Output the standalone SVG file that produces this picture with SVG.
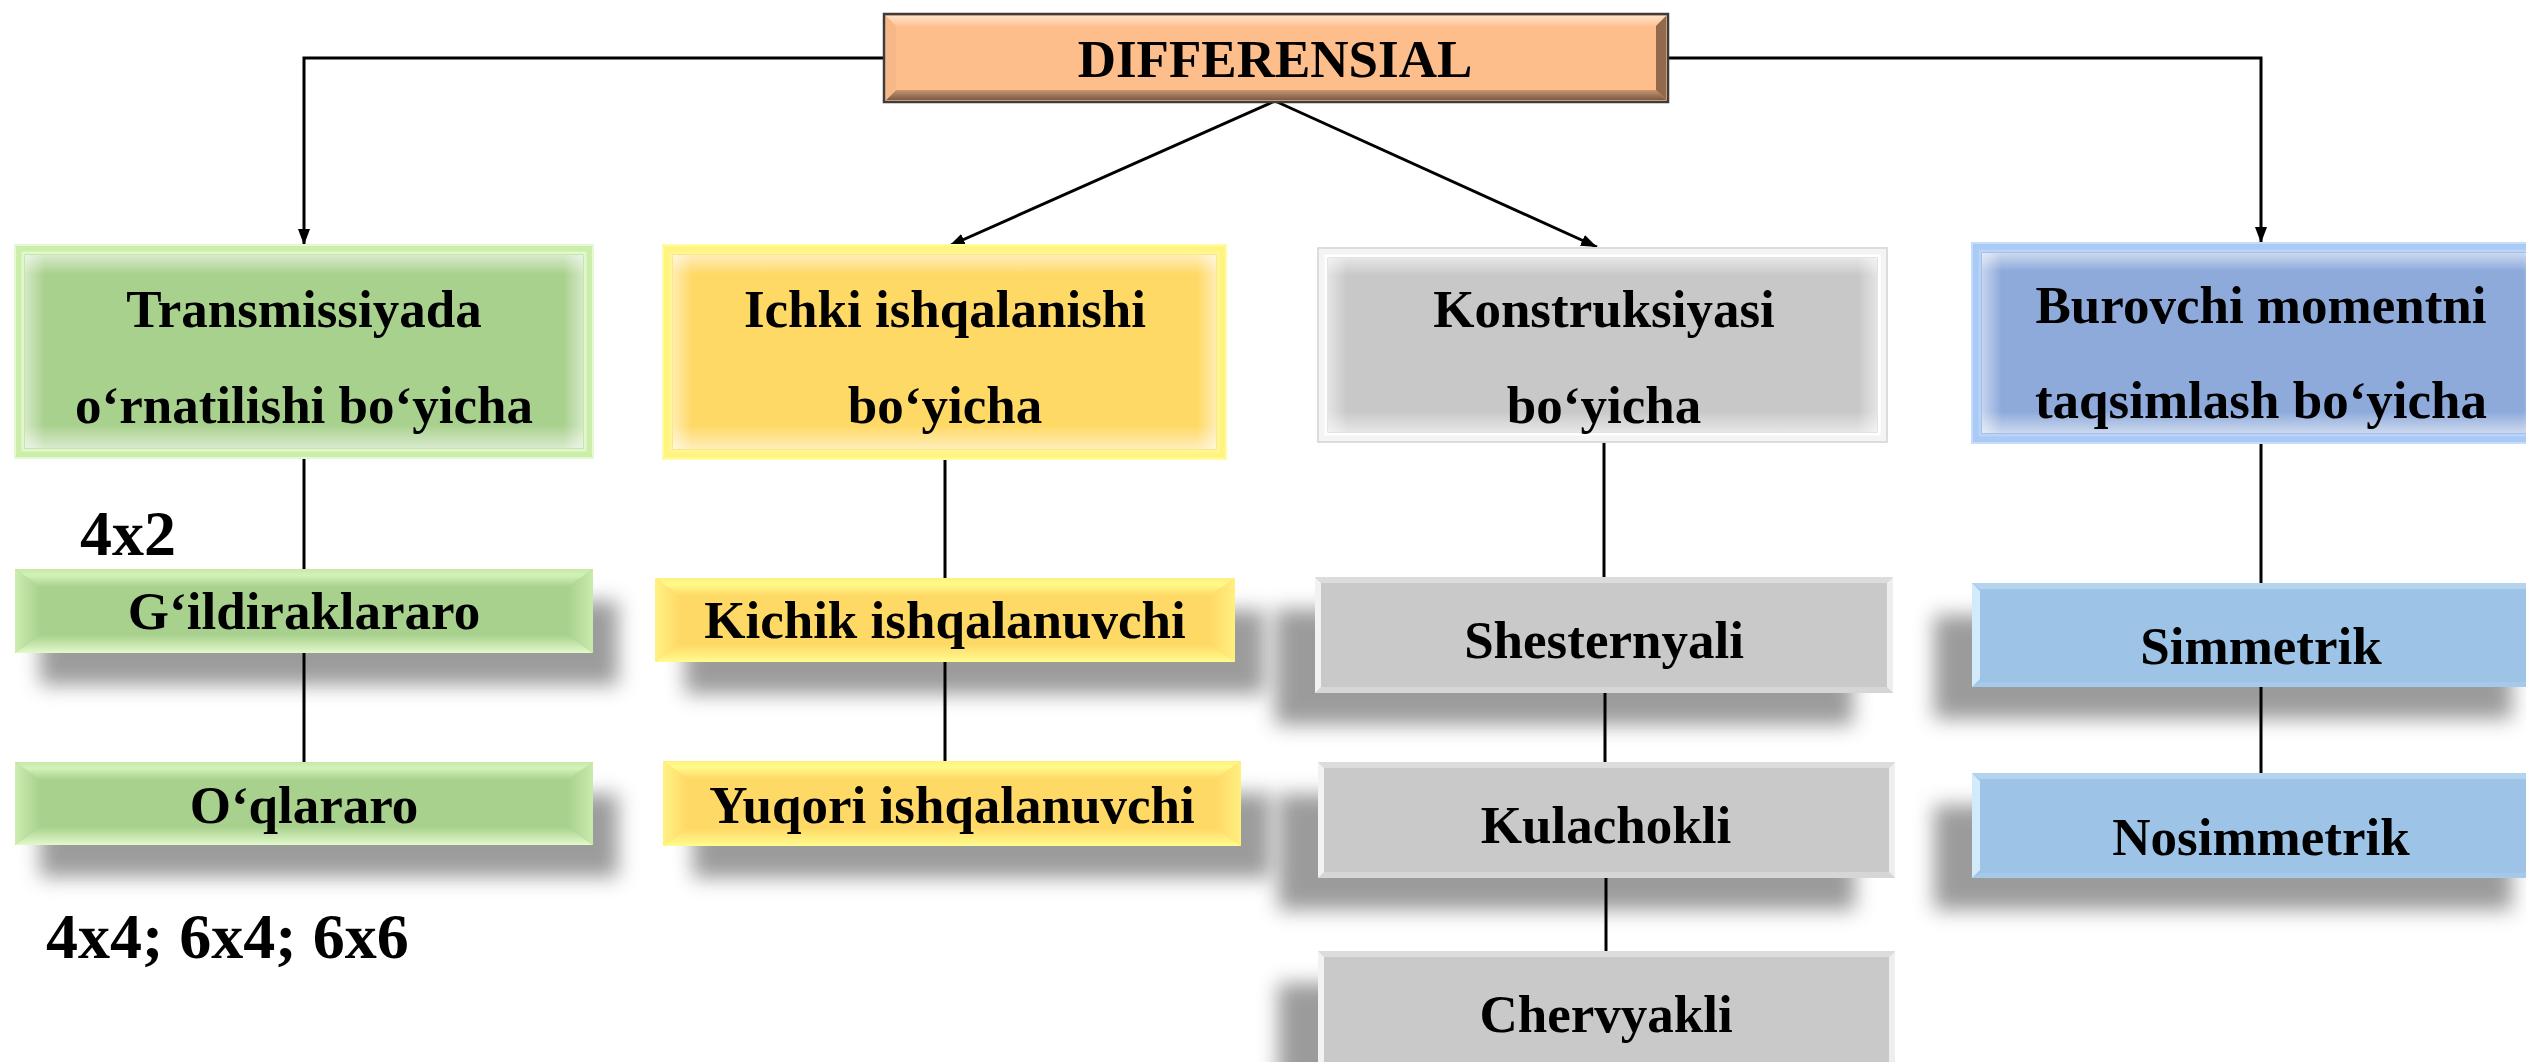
<svg xmlns="http://www.w3.org/2000/svg" width="2526" height="1062" viewBox="0 0 2526 1062">
<style>
  text { font-family: "Liberation Serif", "Times New Roman", serif; font-weight: bold; fill: #000; }
  .lbl { font-size: 53px; text-anchor: middle; }
  .note { font-size: 64px; }
  .conn { stroke: #000; stroke-width: 3; fill: none; }
  .shadow { fill: #7a7a7a; opacity: 0.75; filter: url(#blur); }
</style>
<defs>
  <filter id="blur" x="-20%" y="-50%" width="140%" height="200%"><feGaussianBlur stdDeviation="10"/></filter>
  <marker id="arr" markerUnits="userSpaceOnUse" markerWidth="16" markerHeight="16" viewBox="0 0 16 16" refX="16" refY="8" orient="auto">
    <path d="M0,2 L16,8 L0,14 z" fill="#000"/>
  </marker>
  <linearGradient id="ovV" x1="0" y1="0" x2="0" y2="1">
    <stop offset="0" stop-color="#fff" stop-opacity="0.55"/>
    <stop offset="0.1" stop-color="#fff" stop-opacity="0"/>
    <stop offset="0.88" stop-color="#fff" stop-opacity="0"/>
    <stop offset="1" stop-color="#fff" stop-opacity="0.55"/>
  </linearGradient>
  <linearGradient id="ovH" x1="0" y1="0" x2="1" y2="0">
    <stop offset="0" stop-color="#fff" stop-opacity="0.5"/>
    <stop offset="0.035" stop-color="#fff" stop-opacity="0"/>
    <stop offset="0.965" stop-color="#fff" stop-opacity="0"/>
    <stop offset="1" stop-color="#fff" stop-opacity="0.5"/>
  </linearGradient>
  <linearGradient id="gT" x1="0" y1="0" x2="0" y2="1"><stop offset="0" stop-color="#C6E9A9"/><stop offset="0.35" stop-color="#D3F2B8"/><stop offset="1" stop-color="#A9D18E"/></linearGradient>
  <linearGradient id="gB" x1="0" y1="0" x2="0" y2="1"><stop offset="0" stop-color="#A9D18E"/><stop offset="1" stop-color="#E2F9CB"/></linearGradient>
  <linearGradient id="gL" x1="0" y1="0" x2="1" y2="0"><stop offset="0" stop-color="#CDEDB1"/><stop offset="1" stop-color="#A9D18E"/></linearGradient>
  <linearGradient id="gR" x1="0" y1="0" x2="1" y2="0"><stop offset="0" stop-color="#A9D18E"/><stop offset="1" stop-color="#C9EAAD"/></linearGradient>
  <linearGradient id="yT" x1="0" y1="0" x2="0" y2="1"><stop offset="0" stop-color="#FFF07E"/><stop offset="0.35" stop-color="#FFFA8A"/><stop offset="1" stop-color="#FFD966"/></linearGradient>
  <linearGradient id="yB" x1="0" y1="0" x2="0" y2="1"><stop offset="0" stop-color="#FFD966"/><stop offset="1" stop-color="#FFFC8E"/></linearGradient>
  <linearGradient id="yL" x1="0" y1="0" x2="1" y2="0"><stop offset="0" stop-color="#FFF283"/><stop offset="1" stop-color="#FFD966"/></linearGradient>
  <linearGradient id="yR" x1="0" y1="0" x2="1" y2="0"><stop offset="0" stop-color="#FFD966"/><stop offset="1" stop-color="#FFF080"/></linearGradient>
  <linearGradient id="dBot" x1="0" y1="0" x2="0" y2="1"><stop offset="0" stop-color="#C99670"/><stop offset="1" stop-color="#7A5A44"/></linearGradient>
  <linearGradient id="dTop" x1="0" y1="0" x2="0" y2="1"><stop offset="0" stop-color="#FFE2C6"/><stop offset="1" stop-color="#FDC396"/></linearGradient>
</defs>
<rect width="2526" height="1062" fill="#fff"/>

<g id="shadows">
  <rect class="shadow" x="40" y="601" width="578" height="84"/>
  <rect class="shadow" x="40" y="794" width="578" height="83"/>
  <rect class="shadow" x="685" y="610" width="580" height="84"/>
  <rect class="shadow" x="693" y="793" width="578" height="85"/>
  <rect class="shadow" x="1275" y="609" width="578" height="116"/>
  <rect class="shadow" x="1278" y="794" width="577" height="116"/>
  <rect class="shadow" x="1278" y="983" width="577" height="140"/>
  <rect class="shadow" x="1934" y="615" width="578" height="104"/>
  <rect class="shadow" x="1934" y="805" width="578" height="105"/>
</g>

<g id="connectors">
  <polyline class="conn" points="884,58 304,58 304,245" marker-end="url(#arr)"/>
  <polyline class="conn" points="1668,58 2261,58 2261,243" marker-end="url(#arr)"/>
  <line class="conn" x1="1275" y1="101" x2="949" y2="246" marker-end="url(#arr)"/>
  <line class="conn" x1="1275" y1="101" x2="1597" y2="247" marker-end="url(#arr)"/>
  <line class="conn" x1="304" y1="458" x2="304" y2="569"/>
  <line class="conn" x1="304" y1="653" x2="304" y2="762"/>
  <line class="conn" x1="945" y1="459" x2="945" y2="578"/>
  <line class="conn" x1="945" y1="662" x2="945" y2="761"/>
  <line class="conn" x1="1604" y1="442" x2="1604" y2="577"/>
  <line class="conn" x1="1605" y1="693" x2="1605" y2="762"/>
  <line class="conn" x1="1606" y1="878" x2="1606" y2="951"/>
  <line class="conn" x1="2261" y1="443" x2="2261" y2="583"/>
  <line class="conn" x1="2261" y1="687" x2="2261" y2="773"/>
</g>

<g id="n-diff">
  <rect x="884" y="14" width="784" height="88" fill="#FDBE8C" stroke="#3C3C3C" stroke-width="2.5"/>
  <polygon points="886,16 1666,16 1656,26 896,26" fill="url(#dTop)"/>
  <polygon points="886,100 1666,100 1656,90 896,90" fill="url(#dBot)"/>
  <polygon points="1666,16 1666,100 1656,90 1656,26" fill="#93694D"/>
  <polygon points="886,16 886,100 896,90 896,26" fill="#F6B888"/>
  <text class="lbl" x="1275" y="77">DIFFERENSIAL</text>
</g>

<g id="n-trans">
  <rect x="15" y="245" width="578" height="213" fill="#CBEEAB" stroke="#E4F8D2" stroke-width="2"/>
  <rect x="23" y="253" width="562" height="197" fill="#A9D18E" stroke="#E3F7CE" stroke-width="3"/>
  <rect x="25" y="255" width="558" height="193" fill="url(#ovV)"/>
  <rect x="25" y="255" width="558" height="193" fill="url(#ovH)"/>
  <text class="lbl" x="304" y="327">Transmissiyada</text>
  <text class="lbl" x="304" y="423">o‘rnatilishi bo‘yicha</text>
</g>

<g id="n-ichki">
  <rect x="663" y="245" width="563" height="214" fill="#FFF47E" stroke="#FFF9A8" stroke-width="2"/>
  <rect x="671" y="253" width="547" height="198" fill="#FFD966" stroke="#FFF59A" stroke-width="3"/>
  <rect x="673" y="255" width="543" height="194" fill="url(#ovV)"/>
  <rect x="673" y="255" width="543" height="194" fill="url(#ovH)"/>
  <text class="lbl" x="945" y="327">Ichki ishqalanishi</text>
  <text class="lbl" x="945" y="423">bo‘yicha</text>
</g>

<g id="n-konst">
  <rect x="1318" y="248" width="569" height="194" fill="#F4F4F4" stroke="#DCDCDC" stroke-width="2"/>
  <rect x="1326" y="256" width="553" height="178" fill="#C8C8C8" stroke="#FFFFFF" stroke-width="3"/>
  <rect x="1328" y="258" width="549" height="174" fill="url(#ovV)"/>
  <rect x="1328" y="258" width="549" height="174" fill="url(#ovH)"/>
  <text class="lbl" x="1604" y="327">Konstruksiyasi</text>
  <text class="lbl" x="1604" y="423">bo‘yicha</text>
</g>

<g id="n-burov">
  <rect x="1972" y="243" width="580" height="200" fill="#A9CAF4" stroke="#C5DDFA" stroke-width="2"/>
  <rect x="1980" y="251" width="564" height="184" fill="#8EAADB" stroke="#B9D4F6" stroke-width="3"/>
  <rect x="1982" y="253" width="560" height="180" fill="url(#ovV)"/>
  <rect x="1982" y="253" width="560" height="180" fill="url(#ovH)"/>
  <text class="lbl" x="2261" y="323">Burovchi momentni</text>
  <text class="lbl" x="2261" y="418">taqsimlash bo‘yicha</text>
</g>

<g id="n-gildir">
  <rect x="15" y="569" width="578" height="84" fill="#A9D18E"/>
  <polygon points="15,569 593,569 568,587 40,587" fill="url(#gT)"/>
  <polygon points="15,653 593,653 568,635 40,635" fill="url(#gB)"/>
  <polygon points="15,569 40,587 40,635 15,653" fill="url(#gL)"/>
  <polygon points="593,569 568,587 568,635 593,653" fill="url(#gR)"/>
  <text class="lbl" x="304" y="629">G‘ildiraklararo</text>
</g>

<g id="n-oqlar">
  <rect x="15" y="762" width="578" height="83" fill="#A9D18E"/>
  <polygon points="15,762 593,762 568,780 40,780" fill="url(#gT)"/>
  <polygon points="15,845 593,845 568,827 40,827" fill="url(#gB)"/>
  <polygon points="15,762 40,780 40,827 15,845" fill="url(#gL)"/>
  <polygon points="593,762 568,780 568,827 593,845" fill="url(#gR)"/>
  <text class="lbl" x="304" y="823">O‘qlararo</text>
</g>

<g id="n-kichik">
  <rect x="655" y="578" width="580" height="84" fill="#FFD966"/>
  <polygon points="655,578 1235,578 1210,596 680,596" fill="url(#yT)"/>
  <polygon points="655,662 1235,662 1210,644 680,644" fill="url(#yB)"/>
  <polygon points="655,578 680,596 680,644 655,662" fill="url(#yL)"/>
  <polygon points="1235,578 1210,596 1210,644 1235,662" fill="url(#yR)"/>
  <text class="lbl" x="945" y="638">Kichik ishqalanuvchi</text>
</g>

<g id="n-yuqori">
  <rect x="663" y="761" width="578" height="85" fill="#FFD966"/>
  <polygon points="663,761 1241,761 1216,779 688,779" fill="url(#yT)"/>
  <polygon points="663,846 1241,846 1216,828 688,828" fill="url(#yB)"/>
  <polygon points="663,761 688,779 688,828 663,846" fill="url(#yL)"/>
  <polygon points="1241,761 1216,779 1216,828 1241,846" fill="url(#yR)"/>
  <text class="lbl" x="952" y="823">Yuqori ishqalanuvchi</text>
</g>

<g id="n-shest">
  <rect x="1315" y="577" width="578" height="116" fill="#C9C9C9"/>
  <polygon points="1315,577 1893,577 1887,583 1321,583" fill="#DCDCDC"/>
  <polygon points="1315,693 1893,693 1887,687 1321,687" fill="#D6D6D6"/>
  <polygon points="1315,577 1321,583 1321,687 1315,693" fill="#F2F2F2"/>
  <polygon points="1893,577 1887,583 1887,687 1893,693" fill="#EEEEEE"/>
  <text class="lbl" x="1604" y="658">Shesternyali</text>
</g>

<g id="n-kulach">
  <rect x="1318" y="762" width="577" height="116" fill="#C9C9C9"/>
  <polygon points="1318,762 1895,762 1889,768 1324,768" fill="#DCDCDC"/>
  <polygon points="1318,878 1895,878 1889,872 1324,872" fill="#D6D6D6"/>
  <polygon points="1318,762 1324,768 1324,872 1318,878" fill="#F2F2F2"/>
  <polygon points="1895,762 1889,768 1889,872 1895,878" fill="#EEEEEE"/>
  <text class="lbl" x="1606" y="843">Kulachokli</text>
</g>

<g id="n-cherv">
  <rect x="1318" y="951" width="577" height="130" fill="#C9C9C9"/>
  <polygon points="1318,951 1895,951 1889,957 1324,957" fill="#DCDCDC"/>
  <polygon points="1318,951 1324,957 1324,1081 1318,1081" fill="#F2F2F2"/>
  <polygon points="1895,951 1889,957 1889,1081 1895,1081" fill="#EEEEEE"/>
  <text class="lbl" x="1606" y="1032">Chervyakli</text>
</g>

<g id="n-simm">
  <rect x="1972" y="583" width="580" height="104" fill="#9DC3E6"/>
  <polygon points="1972,583 2552,583 2544,589 1980,589" fill="#B4D3EF"/>
  <polygon points="1972,687 2552,687 2544,682 1980,682" fill="#A6C9E9"/>
  <polygon points="1972,583 1980,591 1980,679 1972,687" fill="#D3EAFB"/>
  <text class="lbl" x="2261" y="664">Simmetrik</text>
</g>

<g id="n-nosimm">
  <rect x="1972" y="773" width="580" height="105" fill="#9DC3E6"/>
  <polygon points="1972,773 2552,773 2544,779 1980,779" fill="#B4D3EF"/>
  <polygon points="1972,878 2552,878 2544,873 1980,873" fill="#A6C9E9"/>
  <polygon points="1972,773 1980,781 1980,870 1972,878" fill="#D3EAFB"/>
  <text class="lbl" x="2261" y="855">Nosimmetrik</text>
</g>

<g id="notes">
  <text class="note" x="80" y="555">4x2</text>
  <text class="note" x="46" y="958">4x4; 6x4; 6x6</text>
</g>
</svg>
